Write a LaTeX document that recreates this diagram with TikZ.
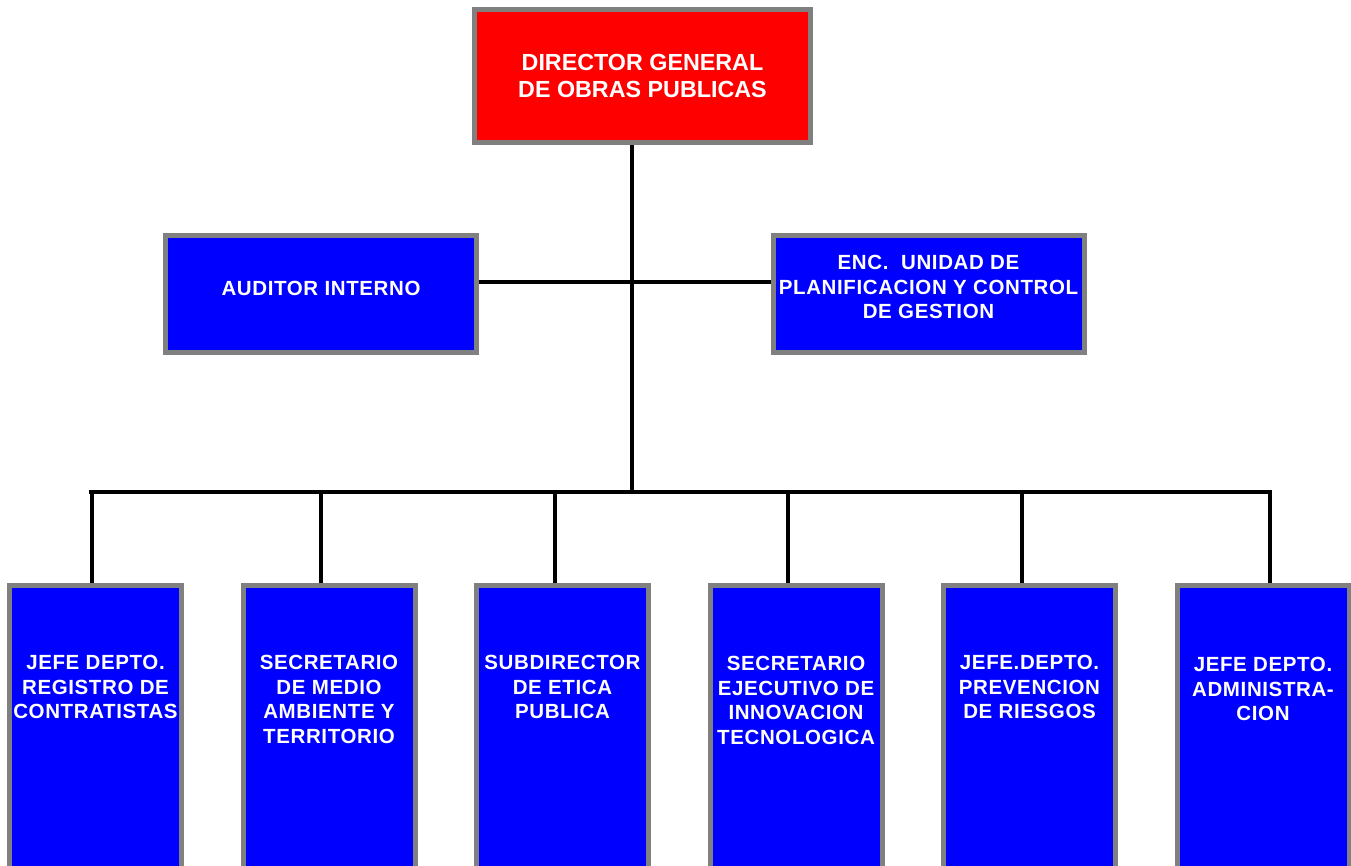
\documentclass[tikz,border=0pt]{standalone}
\usepackage{fontspec}
\setmainfont{Liberation Sans}
\newfontfamily\capfont[LetterSpace=3]{Liberation Sans}
\usepackage{tikz}
\usetikzlibrary{positioning}

\definecolor{boxgray}{RGB}{128,128,128}
\definecolor{chiefred}{RGB}{255,0,0}
\definecolor{unitblue}{RGB}{0,0,255}

\tikzset{
	chief/.style={draw=boxgray, line width=5pt, fill=chiefred, minimum width=336pt, minimum height=133pt,
		text=white, align=center, font=\bfseries\fontsize{23.3}{27}\selectfont},
	unit/.style={draw=boxgray, line width=5pt, fill=unitblue, minimum width=311pt, minimum height=117pt},
	dept/.style={draw=boxgray, line width=5pt, fill=unitblue, minimum width=172pt, minimum height=400pt, anchor=north},
	caption/.style={text=white, align=center, inner sep=0pt, outer sep=0pt,
		font=\capfont\bfseries\fontsize{20.5}{24.7}\selectfont},
	link/.style={line width=3.2pt, black}
}

\begin{document}
\begin{tikzpicture}[x=1pt,y=-1pt]
			\useasboundingbox (0,0) rectangle (1351,865);
			\clip (0,0) rectangle (1351,865);
			% director
			\node[chief] (dir) at (642.5,76) {DIRECTOR GENERAL\\DE OBRAS PUBLICAS};
			% staff units
			\node[unit] (aud) at (321,294) {};
			\node[caption] (audtxt) at ([yshift=6pt]aud.center) {AUDITOR INTERNO};
			\node[unit] (enc) at (928.5,294) {};
			\node[caption] (enctxt) at ([yshift=7pt]enc.center) {ENC.\ \ UNIDAD DE\\PLANIFICACION Y CONTROL\\DE GESTION};
			% departments
			\node[dept] (regis) at (95.5,583) {};
			\node[dept] (medio) at (329,583) {};
			\node[dept] (etica) at (562.5,583) {};
			\node[dept] (innov) at (796,583) {};
			\node[dept] (riesg) at (1029.5,583) {};
			\node[dept] (admin) at (1263,583) {};
			\node[caption, below=72pt of regis.north] (registxt) {JEFE DEPTO.\\REGISTRO DE\\CONTRATISTAS};
			\node[caption, below=72pt of medio.north] (mediotxt) {SECRETARIO\\DE MEDIO\\AMBIENTE Y\\TERRITORIO};
			\node[caption, below=72pt of etica.north] (eticatxt) {SUBDIRECTOR\\DE ETICA\\PUBLICA};
			\node[caption, below=73pt of innov.north] (innovtxt) {SECRETARIO\\EJECUTIVO DE\\INNOVACION\\TECNOLOGICA};
			\node[caption, below=72pt of riesg.north] (riesgtxt) {JEFE.DEPTO.\\PREVENCION\\DE RIESGOS};
			\node[caption, below=74pt of admin.north] (admintxt) {JEFE DEPTO.\\ADMINISTRA-\\CION};
			% connectors
			\coordinate (hub) at (632,282);
			\coordinate (busL) at (88.5,492);
			\coordinate (busR) at (1271.5,492);
			\draw[link] ([xshift=-10.5pt]dir.south) -- ([xshift=-10.5pt]dir.south |- busL);
			\draw[link] (aud.east |- hub) -- (enc.west |- hub);
			\draw[link] (busL) -- (busR);
			\draw[link] ([xshift=-3.5pt]regis.north) -- ([xshift=-3.5pt]regis.north |- busL);
			\draw[link] ([xshift=-8pt]medio.north) -- ([xshift=-8pt]medio.north |- busL);
			\draw[link] ([xshift=-7.5pt]etica.north) -- ([xshift=-7.5pt]etica.north |- busL);
			\draw[link] ([xshift=-8pt]innov.north) -- ([xshift=-8pt]innov.north |- busL);
			\draw[link] ([xshift=-7.5pt]riesg.north) -- ([xshift=-7.5pt]riesg.north |- busL);
			\draw[link] ([xshift=7pt]admin.north) -- ([xshift=7pt]admin.north |- busL);
\end{tikzpicture}
\end{document}
